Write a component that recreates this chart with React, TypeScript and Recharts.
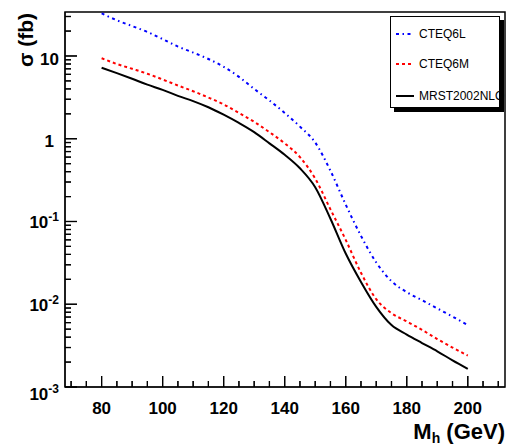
import React from 'react';
import { LineChart, Line, XAxis, YAxis, ReferenceArea, ReferenceLine, Legend } from 'recharts';

// Higgs mass points (GeV)
const masses = [80, 85, 90, 95, 100, 105, 110, 115, 120, 125, 130, 135, 140, 145, 150, 155, 160, 165, 170, 175, 180, 185, 190, 195, 200];

// cross sections in fb
const cteq6l = [32.7, 27, 23, 19.5, 16, 13, 11, 9.2, 7.4, 5.6, 4.0, 2.9, 2.05, 1.4, 0.9, 0.41, 0.16, 0.067, 0.032, 0.019, 0.014, 0.0112, 0.0089, 0.0071, 0.0056];
const cteq6m = [9.4, 8.0, 7.0, 6.1, 5.2, 4.4, 3.75, 3.15, 2.6, 2.05, 1.6, 1.2, 0.88, 0.6, 0.33, 0.14, 0.06, 0.024, 0.0115, 0.0078, 0.0062, 0.0049, 0.0038, 0.003, 0.0024];
const mrst = [7.2, 6.2, 5.3, 4.5, 3.9, 3.3, 2.85, 2.4, 1.95, 1.55, 1.2, 0.88, 0.64, 0.44, 0.26, 0.108, 0.041, 0.0186, 0.0093, 0.0056, 0.0043, 0.0034, 0.0027, 0.0021, 0.00166];

const xTicks = [70, 75, 80, 85, 90, 95, 100, 105, 110, 115, 120, 125, 130, 135, 140, 145, 150, 155, 160, 165, 170, 175, 180, 185, 190, 195, 200, 205, 210];
const xLabels = [80, 100, 120, 140, 160, 180, 200];

const decades = [0.001, 0.01, 0.1, 1, 10];
const mantissas = [1, 2, 3, 4, 5, 6, 7, 8, 9];
const yLabels = [
  { value: 0.001, base: '10', exp: '-3', dy: 13 },
  { value: 0.01, base: '10', exp: '-2', dy: 7 },
  { value: 0.1, base: '10', exp: '-1', dy: 7 },
  { value: 1, base: '1', exp: '', dy: 8 },
  { value: 10, base: '10', exp: '', dy: 9 },
];

const Y_MIN = 0.001;
const Y_MAX = 34;
const X_MIN = 68;
const X_MAX = 212.2;
const yTicks = decades.flatMap((d) => mantissas.map((k) => k * d)).filter((v) => v <= Y_MAX);

// plot box in px, used only to turn tick lengths into axis units
const PLOT_W = 440;
const PLOT_H = 375;
const pxPerX = PLOT_W / (X_MAX - X_MIN);
const pxPerDecade = PLOT_H / Math.log10(Y_MAX / Y_MIN);

const series = [
  { key: 'l', name: 'CTEQ6L', color: '#0000ff', dash: '3 3.5 1.5 3.5', width: 2 },
  { key: 'm', name: 'CTEQ6M', color: '#ff0000', dash: '3 3', width: 2 },
  { key: 'n', name: 'MRST2002NLO', color: '#000000', dash: undefined, width: 2 },
];

const data = masses.map((mh, i) => ({ mh, l: cteq6l[i], m: cteq6m[i], n: mrst[i] }));

const FONT = '"Liberation Sans", Arial, Helvetica, sans-serif';

const isYMajor = (v: number) => yLabels.some((t) => Math.abs(t.value - v) < t.value * 1e-6);

const renderXTick = (props: any) => {
  const { x, y, payload } = props;
  const major = xLabels.includes(payload.value);
  return (
    <g key={`xt-${payload.value}`}>
      <path d={`M${x},${y}V${y - (major ? 11 : 6)}`} stroke="#000" strokeWidth={1.2} fill="none" />
      {major && (
        <text x={x} y={y + 27} textAnchor="middle" fontSize={17} fontWeight="bold" fontFamily={FONT} fill="#000">
          {payload.value}
        </text>
      )}
    </g>
  );
};

const renderYTick = (props: any) => {
  const { x, y, payload } = props;
  const v = payload.value;
  const lab = yLabels.find((t) => Math.abs(t.value - v) < t.value * 1e-6);
  return (
    <g key={`yt-${v}`}>
      <path d={`M${x},${y}H${x + (lab ? 12 : 6)}`} stroke="#000" strokeWidth={1.2} fill="none" />
      {lab && (
        <text x={lab.base === '1' ? 54 : 59} y={y + lab.dy} textAnchor="end" fontSize={17} fontWeight="bold" fontFamily={FONT} fill="#000">
          <tspan>{lab.base}</tspan>
          {lab.exp && <tspan dy={-7} fontSize={12}>{lab.exp}</tspan>}
        </text>
      )}
    </g>
  );
};

const LegendBox = () => (
  <div
    style={{
      position: 'relative',
      width: 108,
      height: 90,
      border: '1px solid #000',
      boxShadow: '4px 4px 0 #000',
      background: '#fff',
      fontFamily: FONT,
      fontSize: 12,
    }}
  >
    {series.map((s, i) => (
      <div key={s.key} style={{ position: 'absolute', left: 0, top: [17, 47, 79][i] - 8, height: 16, display: 'flex', alignItems: 'center' }}>
        <svg width={28} height={16} style={{ display: 'block' }}>
          <line x1={5} x2={23} y1={8} y2={8} stroke={s.color} strokeWidth={s.width} strokeDasharray={s.dash} />
        </svg>
        <span style={{ color: '#000', whiteSpace: 'nowrap' }}>{s.name}</span>
      </div>
    ))}
  </div>
);

export default function App() {
  return (
    <div style={{ position: 'absolute', left: 0, top: 0, width: 507, height: 446, background: '#fff' }}>
      <LineChart width={507} height={446} data={data} margin={{ top: 12, right: 2, left: 5, bottom: 29 }}>
        <ReferenceArea x1={X_MIN} x2={X_MAX} y1={Y_MIN} y2={Y_MAX} fill="none" stroke="#000" strokeWidth={1.5} ifOverflow="visible" />
        {xTicks.map((v) => (
          <ReferenceLine
            key={`xm-${v}`}
            segment={[{ x: v, y: Y_MIN }, { x: v, y: Y_MIN * Math.pow(10, (xLabels.includes(v) ? 11 : 6) / pxPerDecade) }]}
            stroke="#000"
            strokeWidth={1.2}
            ifOverflow="visible"
          />
        ))}
        {yTicks.map((v) => (
          <ReferenceLine
            key={`ym-${v}`}
            segment={[{ x: X_MIN, y: v }, { x: X_MIN + (isYMajor(v) ? 12 : 6) / pxPerX, y: v }]}
            stroke="#000"
            strokeWidth={1.2}
            ifOverflow="visible"
          />
        ))}
        <XAxis
          dataKey="mh"
          type="number"
          domain={[X_MIN, X_MAX]}
          ticks={xTicks}
          interval={0}
          height={30}
          tickSize={0}
          tickMargin={0}
          tickLine={false}
          stroke="#000"
          tick={renderXTick}
          label={{
            content: () => (
              <text x={505} y={439} textAnchor="end" fontSize={22} fontWeight="bold" fontFamily={FONT} fill="#000">
                <tspan>M</tspan>
                <tspan dy={4} fontSize={14}>h</tspan>
                <tspan dy={-4}> (GeV)</tspan>
              </text>
            ),
          }}
        />
        <YAxis
          type="number"
          scale="log"
          domain={[Y_MIN, Y_MAX]}
          ticks={yTicks}
          interval={0}
          width={60}
          tickSize={0}
          tickMargin={0}
          tickLine={false}
          stroke="#000"
          tick={renderYTick}
          label={{
            content: () => (
              <text x={33} y={13} transform="rotate(-90, 33, 13)" textAnchor="end" fontSize={21} fontWeight="bold" fontFamily={FONT} fill="#000">
                σ (fb)
              </text>
            ),
          }}
        />
        <Legend
          layout="vertical"
          align="center"
          verticalAlign="middle"
          content={() => <LegendBox />}
          wrapperStyle={{ left: 390, top: 16, width: 114, height: 96 }}
        />
        {series.map((s) => (
          <Line
            key={s.key}
            dataKey={s.key}
            name={s.name}
            type="monotone"
            stroke={s.color}
            strokeWidth={s.width}
            strokeDasharray={s.dash}
            dot={false}
            activeDot={false}
            isAnimationActive={false}
          />
        ))}
      </LineChart>
    </div>
  );
}
